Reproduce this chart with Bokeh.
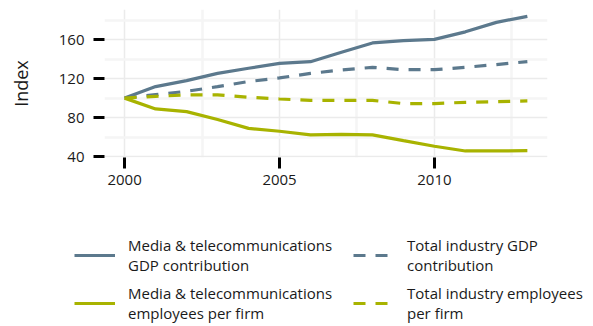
from bokeh.plotting import figure
from bokeh.models import Range1d, FixedTicker, Legend, LegendItem
from bokeh.layouts import column
from bokeh.embed import file_html
from bokeh.resources import INLINE

years = list(range(2000, 2014))
media_gdp = [100, 111.8, 118, 125.4, 130.6, 135.7, 137.4, 147, 156.6, 159, 160.3, 168, 177.7, 183.9]
total_gdp = [100, 103.6, 107, 111.8, 117, 120.7, 125.4, 128.9, 131.6, 129.2, 129.2, 131.6, 134.4, 137.4]
media_emp = [100, 88.9, 86.2, 78, 69, 66, 62.3, 62.9, 62.3, 56.4, 50.6, 45.8, 45.9, 46.1]
total_emp = [100, 101.8, 103.3, 103.3, 100.9, 99.1, 97.7, 97.7, 97.7, 94.4, 94.4, 95.7, 96.4, 97.1]

x_ticks = [2000, 2005, 2010]
x_minor = [2002.5, 2007.5, 2012.5]
y_ticks = [40, 80, 120, 160]
y_minor = [60, 100, 140, 180]

labels = ["Media & telecommunications\nGDP contribution",
          "Total industry GDP\ncontribution",
          "Media & telecommunications\nemployees per firm",
          "Total industry employees\nper firm"]

BLUE = "#5C798D"
GREEN = "#A8B300"
FONT = "Open Sans"
series = [(media_gdp, BLUE, "solid"), (total_gdp, BLUE, "12 10"),
          (media_emp, GREEN, "solid"), (total_emp, GREEN, "12 10")]

# ---- main chart ----
p = figure(width=593, height=235, output_backend="svg", toolbar_location=None,
           x_range=Range1d(1999.35, 2013.65), y_range=Range1d(39.1, 190.9),
           min_border_left=104, min_border_right=46, min_border_top=9, min_border_bottom=78)
p.outline_line_color = None
p.frame_align = False
for vals, col, dash in series:
    p.line(years, vals, line_color=col, line_width=3.2, line_dash=dash)

p.xaxis.ticker = FixedTicker(ticks=x_ticks, minor_ticks=x_minor)
p.yaxis.ticker = FixedTicker(ticks=y_ticks, minor_ticks=y_minor)
for ax in (p.xaxis, p.yaxis):
    ax.axis_line_color = None
    ax.major_tick_line_color = "black"
    ax.major_tick_line_width = 3
    ax.major_tick_in = 0
    ax.major_tick_out = 11
    ax.minor_tick_line_color = None
    ax.major_label_text_font = FONT
    ax.major_label_text_font_size = "15px"
    ax.major_label_text_color = "#1a1a1a"
p.xaxis.major_label_standoff = 6
p.yaxis.major_label_standoff = 9
p.yaxis.axis_label = "Index"
p.yaxis.axis_label_text_font = FONT
p.yaxis.axis_label_text_font_size = "18px"
p.yaxis.axis_label_text_font_style = "normal"
p.yaxis.axis_label_text_color = "#1a1a1a"
p.yaxis.axis_label_standoff = 23

for g in (p.xgrid, p.ygrid):
    g.grid_line_color = "#EBEBEB"
    g.grid_line_width = 1.5
    g.minor_grid_line_color = "#F5F5F5"
    g.minor_grid_line_width = 2.5

# ---- legend panel (same series, drawn outside its frame so only the keys show) ----
lg = figure(width=593, height=91, output_backend="svg", toolbar_location=None,
            x_range=Range1d(0, 1), y_range=Range1d(0, 1),
            x_axis_type=None, y_axis_type=None,
            min_border_left=74, min_border_top=0, min_border_right=0, min_border_bottom=0)
lg.outline_line_color = None
lg.frame_align = False
lg.grid.visible = False
rs = [lg.line(years, vals, line_color=col, line_width=3.2, line_dash=dash)
      for vals, col, dash in series]

legend = Legend(items=[LegendItem(label=labels[0], renderers=[rs[0]]),
                       LegendItem(label=labels[2], renderers=[rs[2]]),
                       LegendItem(label=labels[1], renderers=[rs[1]]),
                       LegendItem(label=labels[3], renderers=[rs[3]])],
                ncols=2, location="top_left",
                glyph_width=41, glyph_height=40, label_standoff=13, spacing=8,
                label_width=217,
                padding=0, margin=0, border_line_color=None, background_fill_alpha=0,
                label_text_font=FONT, label_text_font_size="15px",
                label_text_line_height=0.75, label_text_color="#1a1a1a")
lg.add_layout(legend, "center")

layout = column(p, lg, spacing=0)
open("out.html", "w").write(file_html(layout, INLINE))
